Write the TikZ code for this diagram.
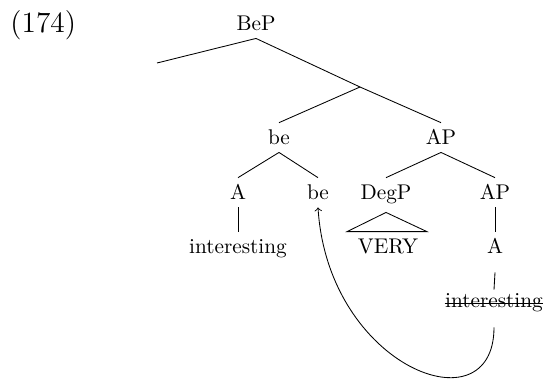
\documentclass[tikz,border=0pt]{standalone}
\begin{document}
\begin{tikzpicture}[x=0.47pt,y=-0.47pt,
  tn/.style={inner sep=0pt, anchor=base, text height=10.3pt, text depth=3.3pt},
  edge/.style={line width=0.4pt}]
\useasboundingbox (0,0) rectangle (547,380);
\node[anchor=base west, inner sep=0pt, font=\fontsize{13.8}{16}\selectfont] (ex) at (10,33) {(174)};
% tree nodes
\node[tn] (BeP) at (256,31) {BeP};
\coordinate (bx) at (157,63);
\coordinate (mid) at (360,87);
\node[tn] (beU) at (279,145) {be};
\node[tn] (APU) at (441,145) {AP};
\node[tn] (A1) at (238,200) {A};
\node[tn] (beL) at (318,200) {be};
\node[tn] (DegP) at (386,200) {DegP};
\node[tn] (AP2) at (495,200) {AP};
\node[tn] (int1) at (238,254) {interesting};
\node[tn] (very) at (388,254) {VERY};
\node[tn] (A2) at (495,254) {A};
\node[tn] (int2) at (494,308) {interesting};
% strike-through
\draw[edge] ([shift={(0,-4.5)}]int2.base west) -- ([shift={(0,-4.5)}]int2.base east);
% edges
\draw[edge] (BeP.south) -- (bx);
\draw[edge] (BeP.south) -- (mid);
\draw[edge] (mid) -- (beU.north);
\draw[edge] (mid) -- (APU.north);
\draw[edge] (beU.south) -- (A1.north);
\draw[edge] (beU.south) -- (beL.north);
\draw[edge] (A1.south) -- (int1.north);
\draw[edge] (APU.south) -- (DegP.north);
\draw[edge] (APU.south) -- (AP2.north);
\draw[edge] (AP2.south) -- (A2.north);
\draw[edge] ([shift={(0,11)}]A2.south) -- ([shift={(0,4)}]int2.north);
% roof
\draw[edge] ([shift={(0,5)}]DegP.south) -- ([shift={(-41,0)}]very.north) -- ([shift={(39,0)}]very.north) -- cycle;
% movement arrow
\draw[edge,->] ([shift={(0,12)}]int2.south) .. controls +(0,103) and +(10,160) .. (beL.south);
\end{tikzpicture}
\end{document}
